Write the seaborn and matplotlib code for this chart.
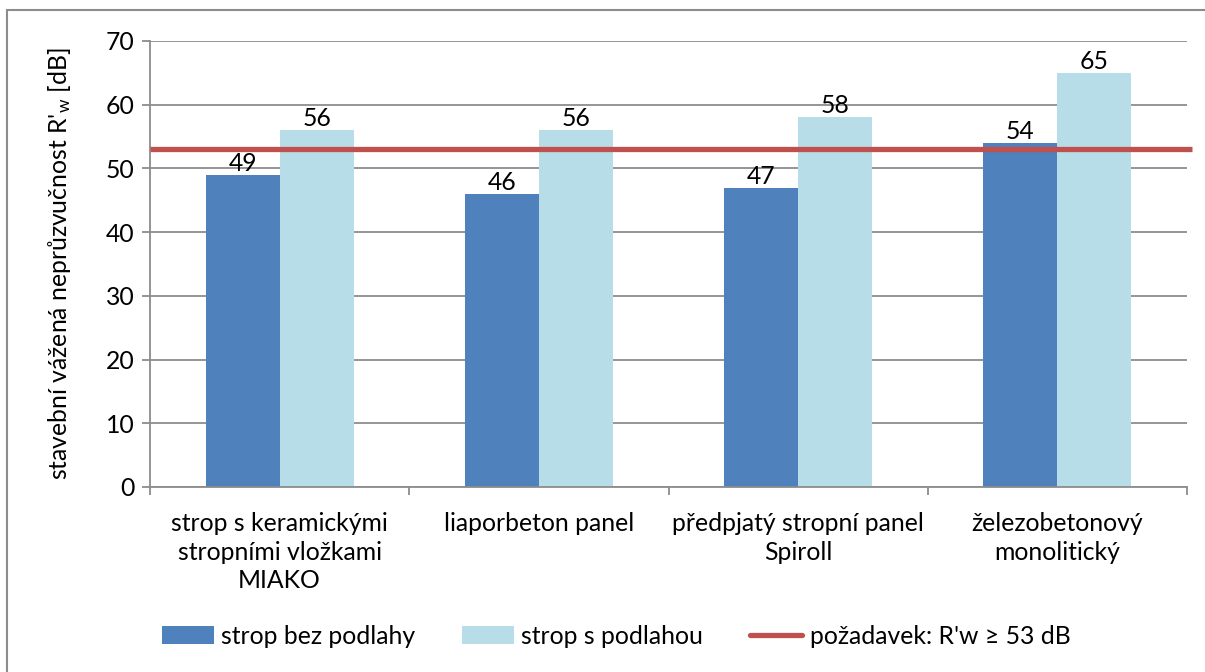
import matplotlib
matplotlib.use("Agg")
import matplotlib.pyplot as plt
from matplotlib.patches import Patch, Rectangle
from matplotlib.lines import Line2D
import seaborn as sns
import pandas as pd

# Data
categories = [
    "strop s keramickými\nstropními vložkami\nMIAKO",
    "liaporbeton panel",
    "předpjatý stropní panel\nSpiroll",
    "železobetonový\nmonolitický",
]
series_names = ["strop bez podlahy", "strop s podlahou"]
bez_podlahy = [49, 46, 47, 54]
s_podlahou = [56, 56, 58, 65]
requirement = 53
requirement_label = "požadavek: R'w ≥ 53 dB"
y_ticks = [0, 10, 20, 30, 40, 50, 60, 70]

colors = ["#4F81BD", "#B7DDE8"]
red = "#C0504D"
grid_gray = "#8C8C8C"
text_color = "#000000"

df = pd.DataFrame({
    "kategorie": categories * 2,
    "serie": [series_names[0]] * 4 + [series_names[1]] * 4,
    "hodnota": bez_podlahy + s_podlahou,
})

sns.set_theme(style="white")
plt.rcParams["font.family"] = ["Lato", "DejaVu Sans"]
plt.rcParams["mathtext.fontset"] = "custom"
plt.rcParams["mathtext.rm"] = "Lato"
plt.rcParams["mathtext.it"] = "Lato"

FS = 17.8
fig = plt.figure(figsize=(12.05, 6.72), dpi=100)
ax = fig.add_axes([150 / 1205, 1 - 487 / 672, (1187 - 150) / 1205, (487 - 41) / 672])

sns.barplot(data=df, x="kategorie", y="hodnota", hue="serie", palette=colors,
            width=0.571, gap=0, saturation=1, ax=ax, legend=False, zorder=2,
            linewidth=0, edgecolor="none")

for cont in ax.containers:
    ax.bar_label(cont, fontsize=FS, padding=0, color=text_color)

# Requirement line, running slightly past the plot area
ax.axhline(requirement, xmin=0, xmax=1.005, color=red, lw=3.8, zorder=4,
           clip_on=False, solid_capstyle="butt")

ax.set_xlim(-0.5, len(categories) - 0.5)
ax.set_ylim(0, 70)
ax.set_yticks(y_ticks)
ax.yaxis.grid(True, color=grid_gray, lw=1.3, zorder=0)
ax.set_axisbelow(True)

for s in ["top", "right"]:
    ax.spines[s].set_visible(False)
for s in ["left", "bottom"]:
    ax.spines[s].set_color(grid_gray)
    ax.spines[s].set_linewidth(1.3)

ax.tick_params(axis="y", which="major", length=6, width=1.3, color=grid_gray,
               labelsize=FS, pad=5, left=True)
ax.tick_params(axis="x", which="major", length=0, labelsize=FS, pad=18)
ax.set_xticks([i - 0.5 for i in range(len(categories) + 1)], minor=True)
ax.tick_params(axis="x", which="minor", length=6, width=1.3, color=grid_gray,
               bottom=True, direction="out")
for lbl in ax.get_xticklabels():
    lbl.set_linespacing(1.3)
    lbl.set_color(text_color)
for lbl in ax.get_yticklabels():
    lbl.set_color(text_color)

ax.set_xlabel("")
ax.set_ylabel("stavební vážená neprůzvučnost R'$_{\\mathrm{w}}$ [dB]",
              fontsize=FS, color=text_color, labelpad=24)

handles = [
    Patch(facecolor=colors[0], edgecolor="none"),
    Patch(facecolor=colors[1], edgecolor="none"),
    Line2D([0], [0], color=red, lw=3.8, solid_capstyle="round"),
]
labels = series_names + [requirement_label]
fig.legend(handles, labels, loc="center", ncol=3, frameon=False,
           bbox_to_anchor=(616 / 1205, 1 - 636 / 672), fontsize=FS,
           handlelength=2.1, handleheight=0.7, handletextpad=0.3,
           columnspacing=1.9, labelcolor=text_color)

# Chart-area border
fig.patches.append(Rectangle((7 / 1205, -0.2), 1.2, 0.2 + (1 - 10 / 672),
                             transform=fig.transFigure, fill=False,
                             edgecolor="#8C8C8C", lw=1.5))

fig.savefig("out.png", dpi=100)
